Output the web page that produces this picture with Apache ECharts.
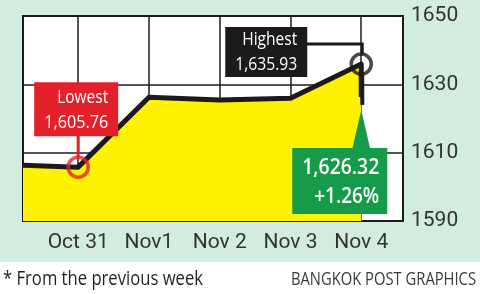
<!DOCTYPE html>
<html><head><meta charset="utf-8">
<script src="https://cdn.jsdelivr.net/npm/echarts@6/dist/echarts.min.js"></script>
<style>
html,body{margin:0;padding:0;}
#c{width:480px;height:294px;background:linear-gradient(to bottom,#d4ebdf 0,#d4ebdf 262px,#ffffff 262px);}
</style></head><body><div id="c"></div>
<script>
const dayLabels = ['Oct 31', 'Nov1', 'Nov 2', 'Nov 3', 'Nov 4'];
const pointDay = [-0.78, 0, 1, 2, 3, 4, 4];
const pointValue = [1606.3, 1605.76, 1626.2, 1625.4, 1625.9, 1635.93, 1626.32];
const lowPoint = [0, 1605.76];
const highPoint = [4, 1635.93];
const closePoint = [4, 1626.32];
const lowText = ['Lowest', '1,605.76'];
const highText = ['Highest', '1,635.93'];
const closeText = ['1,626.32', '+1.26%'];
const footnote = '* From the previous week';
const credit = 'BANGKOK POST GRAPHICS';

const AF = 'Roboto, "Open Sans", sans-serif';
const TF = '"Open Sans", Roboto, sans-serif';
const INK = '#1c1a1b';

const chart = echarts.init(document.getElementById('c'), null, {renderer: 'canvas'});
const option = {
  animation: false,
  backgroundColor: 'transparent',
  grid: {left: 23, top: 16, width: 380, height: 205, show: true, backgroundColor: '#ffffff', borderColor: INK, borderWidth: 2},
  xAxis: {
    type: 'value', min: -0.78, max: 4.59, minInterval: 1, maxInterval: 1,
    axisLine: {show: false}, axisTick: {show: false},
    splitLine: {show: true, lineStyle: {color: INK, width: 1.5}},
    axisLabel: {
      fontFamily: AF, fontSize: 21, color: '#333333', margin: 11,
      showMinLabel: false, showMaxLabel: false,
      formatter: v => (Number.isInteger(v) && dayLabels[v] !== undefined) ? dayLabels[v] : ''
    }
  },
  yAxis: {
    type: 'value', position: 'right', min: 1590, max: 1650, interval: 20,
    axisLine: {show: false}, axisTick: {show: false},
    splitLine: {show: true, lineStyle: {color: INK, width: 1.5}},
    axisLabel: {fontFamily: AF, fontSize: 21, color: '#333333', margin: 8, formatter: v => String(v)}
  },
  series: [
    {
      type: 'line', symbol: 'none', z: 3,
      data: pointDay.map((d, i) => [d, pointValue[i]]),
      lineStyle: {color: INK, width: 5, join: 'round'},
      areaStyle: {color: '#fff200', opacity: 1, origin: 'start'}
    },
    {
      type: 'scatter', z: 6, symbolSize: 20, data: [lowPoint],
      itemStyle: {color: 'rgba(0,0,0,0)', borderColor: '#e4202b', borderWidth: 3.5}
    },
    {
      type: 'scatter', z: 6, symbolSize: 20, data: [highPoint],
      itemStyle: {color: 'rgba(0,0,0,0)', borderColor: INK, borderWidth: 3.5}
    }
  ]
};
chart.setOption(option);

const lp = chart.convertToPixel({gridIndex: 0}, lowPoint);
const hp = chart.convertToPixel({gridIndex: 0}, highPoint);
const cp = chart.convertToPixel({gridIndex: 0}, closePoint);

const RED = '#e4202b', GREEN = '#169b4a';
const mctx = document.createElement('canvas').getContext('2d');
// text fitted to a target width (condensed via scaleX)
const fit = (x, y, s, size, weight, color, width, align) => {
  const font = weight + ' ' + size + 'px ' + TF;
  mctx.font = font;
  const w = mctx.measureText(s).width || width;
  return {
    type: 'text', z: 20, x: x, y: y, scaleX: width / w,
    style: {text: s, fill: color, font: font, align: align || 'right', verticalAlign: 'middle'}
  };
};

const graphics = [
  // Lowest callout
  {type: 'line', z: 15, shape: {x1: lp[0], y1: lp[1] - 32, x2: lp[0], y2: lp[1] - 10}, style: {stroke: RED, lineWidth: 3}},
  {type: 'rect', z: 16, shape: {x: lp[0] - 44, y: lp[1] - 85, width: 84, height: 54}, style: {fill: RED}},
  fit(lp[0] + 30, lp[1] - 70, lowText[0], 19, 'normal', '#ffffff', 51),
  fit(lp[0] + 30, lp[1] - 45, lowText[1], 19, 'normal', '#ffffff', 64),
  // Highest callout
  {type: 'polyline', z: 15, shape: {points: [[hp[0] - 60, hp[1] - 20], [hp[0] + 1, hp[1] - 20], [hp[0] + 1, hp[1] - 10]]}, style: {stroke: INK, lineWidth: 3, fill: null}},
  {type: 'rect', z: 16, shape: {x: hp[0] - 136, y: hp[1] - 37, width: 82, height: 50}, style: {fill: INK}},
  fit(hp[0] - 64, hp[1] - 24, highText[0], 19, 'normal', '#ffffff', 55),
  fit(hp[0] - 64, hp[1] + 1, highText[1], 19, 'normal', '#ffffff', 62),
  // drop to close
  {type: 'line', z: 5, shape: {x1: cp[0] + 1, y1: hp[1] + 8, x2: cp[0] + 1, y2: cp[1] + 8}, style: {stroke: INK, lineWidth: 4}},
  // Close callout
  {type: 'polygon', z: 16, shape: {points: [[cp[0], cp[1] + 13], [cp[0] - 9, cp[1] + 52], [cp[0] + 9, cp[1] + 52]]}, style: {fill: GREEN}},
  {type: 'rect', z: 16, shape: {x: cp[0] - 69, y: cp[1] + 51, width: 95, height: 66}, style: {fill: GREEN}},
  fit(cp[0] + 18, cp[1] + 71, closeText[0], 21, '600', '#ffffff', 77),
  fit(cp[0] + 18, cp[1] + 100, closeText[1], 21, '600', '#ffffff', 65),
  // footer
  fit(3, 279, footnote, 20, 'normal', '#231f20', 200, 'left'),
  fit(476, 280, credit, 18, 'normal', '#3a3a3a', 185, 'right')
];
chart.setOption({graphic: graphics});
</script></body></html>
